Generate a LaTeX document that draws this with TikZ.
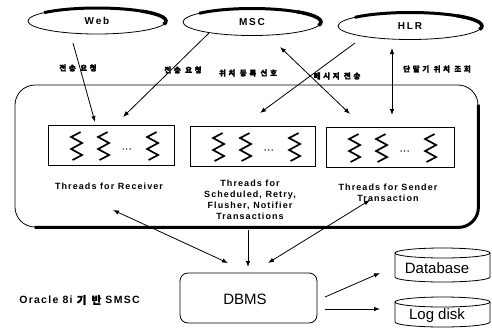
\documentclass[tikz,border=0pt]{standalone}
\usepackage{fontspec}
\setmainfont{Liberation Sans}
\newfontfamily\kr{Noto Sans CJK KR}[FakeBold=2]
\usetikzlibrary{shapes.geometric,arrows.meta}
\begin{document}
\begin{tikzpicture}[x=1pt,y=-1pt,
  arr/.style={line width=0.8pt,-{Latex[length=6pt,width=4.5pt]}},
  darr/.style={line width=0.8pt,{Latex[length=6pt,width=4.5pt]}-{Latex[length=6pt,width=4.5pt]}},
  ell/.style={ellipse,draw,line width=0.8pt,fill=white,inner sep=0pt,
    font=\fontsize{10}{11}\selectfont\bfseries\addfontfeature{LetterSpace=18}},
  tbox/.style={draw,line width=0.8pt,minimum width=126pt,minimum height=40pt,inner sep=0pt},
  lab/.style={align=center,font=\fontsize{9}{11}\selectfont\bfseries\addfontfeature{LetterSpace=12}},
  klab/.style={font=\kr\fontsize{7.5}{8}\selectfont\bfseries\addfontfeature{LetterSpace=35}},
  big/.style={font=\fontsize{15}{17}\selectfont},
  squig/.pic={\draw[line width=1.7pt,line join=miter,miter limit=4] (4,-14) -- (-5.5,-9) -- (5.5,-3) -- (-5.5,3) -- (5.5,9) -- (-4,14);},
  tdots/.pic={\fill (-3.5,3) circle[radius=0.8]; \fill (0,3) circle[radius=0.8]; \fill (3.5,3) circle[radius=0.8];}
]
\fill[white] (0,0) rectangle (492,330);
\useasboundingbox (0,0) rectangle (492,330);

% top ellipses: thick lower-right rim
\node[ell,minimum width=138pt,minimum height=26pt] (web) at (97,21) {Web};
\node[ell,minimum width=138pt,minimum height=27pt] (msc) at (252,22) {MSC};
\node[ell,minimum width=144pt,minimum height=27pt] (hlr) at (410,26) {HLR};
\foreach \n/\rx/\ry in {web/69/13, msc/69/13.5, hlr/72/13.5}{
  \draw[line width=3pt] (\n.center) ++(-50:{\rx} and {\ry})
     arc[start angle=-50,end angle=-140,x radius=\rx,y radius=\ry];
  \draw[line width=3.5pt] (\n.center) ++(15:{\rx} and {\ry})
     arc[start angle=15,end angle=-50,x radius=\rx,y radius=\ry];
}

% main container with thick bottom/right rim
\node[draw,line width=0.8pt,fill=white,rounded corners=20pt,minimum width=463pt,minimum height=142pt] (main) at (246.5,156) {};
\draw[line width=3pt,rounded corners=20pt] ([xshift=20pt]main.south west) -- (main.south east) -- ([yshift=-20pt]main.north east);

% thread boxes
\node[tbox] (b1) at (111,145) {};
\node[tbox,minimum width=125pt] (b2) at (252.5,146) {};
\node[tbox,minimum width=128pt] (b3) at (390,147) {};
\foreach \b in {b1,b2,b3}{
  \path (\b.west) ++(29,1) pic {squig} ++(27,0) pic {squig} ++(23,0) pic {tdots} ++(26,0) pic {squig};
}

\node[lab] (l1) at (109,186) {Threads for Receiver};
\node[lab] (l2) at (250,199.5) {Threads for\\Scheduled, Retry,\\Flusher, Notifier\\Transactions};
\node[lab] (l3) at (388,193) {Threads for Sender\\Transaction};

% DBMS and disks
\node[draw,line width=0.8pt,rounded corners=8pt,minimum width=137pt,minimum height=50pt,big] (dbms) at (248.5,298) {};
\node[big] (dbmst) at (245,299) {DBMS};

\draw[line width=0.8pt] (442.5,253) ellipse[x radius=47.5,y radius=5];
\draw[line width=0.8pt] (395,253) -- (395,277) arc[start angle=180,end angle=0,x radius=47.5,y radius=5] -- (490,253);
\node[big] (db) at (437,268) {Database};
\draw[line width=0.8pt] (442.5,302) ellipse[x radius=47.5,y radius=5];
\draw[line width=0.8pt] (395,302) -- (395,322) arc[start angle=180,end angle=0,x radius=47.5,y radius=5] -- (490,302);
\node[big] (log) at (437,316) {Log disk};

\node[font=\fontsize{10.5}{12}\selectfont\bfseries\addfontfeature{LetterSpace=12}] (ora) at (79.5,300)
  {Oracle 8i {\kr\bfseries\addfontfeature{LetterSpace=50}기반} SMSC};

% connector end points
\coordinate (w1) at (73,43);   \coordinate (w2) at (95,122);
\coordinate (m1) at (209,33);  \coordinate (m2) at (123,117);
\coordinate (h1) at (355,43);  \coordinate (h2) at (260,113);
\coordinate (m3) at (280,47);  \coordinate (s1) at (350,114);
\coordinate (h3) at (392,48);  \coordinate (s2) at (392,115);
\coordinate (r1) at (113,210); \coordinate (d1) at (228,263);
\coordinate (r2) at (248,230); \coordinate (d2) at (248,267);
\coordinate (r3) at (370,200); \coordinate (d3) at (268,263);
\coordinate (o1) at (325,297); \coordinate (e1) at (380,273);
\coordinate (o2) at (325,309); \coordinate (e2) at (380,309);

\draw[arr] (w1) -- (w2);
\draw[arr] (m1) -- (m2);
\draw[arr] (h1) -- (h2);
\draw[darr] (m3) -- (s1);
\draw[darr] (h3) -- (s2);
\draw[darr] (r1) -- (d1);
\draw[arr] (r2) -- (d2);
\draw[darr] (r3) -- (d3);
\draw[arr] (o1) -- (e1);
\draw[arr] (o2) -- (e2);

% connector labels
\node[klab] (k1) at (78,68) {전송 요청};
\node[klab] (k2) at (183,70) {전송 요청};
\node[klab] (k3) at (248,73) {위치 등록 신호};
\node[klab] (k4) at (337,76) {메시지 전송};
\node[klab] (k5) at (437,69) {단말기 위치 조회};
\end{tikzpicture}
\end{document}
